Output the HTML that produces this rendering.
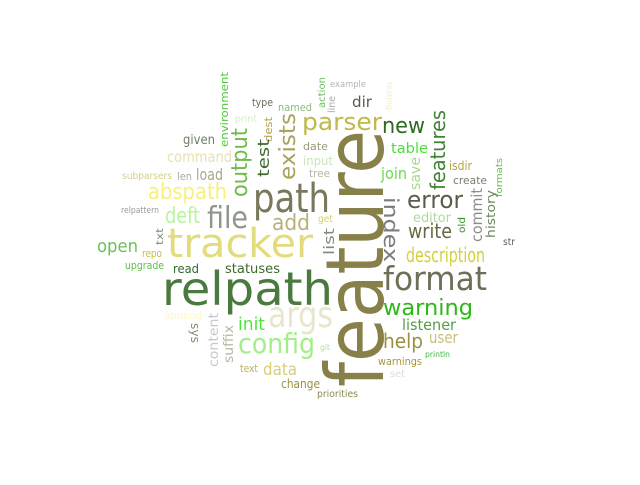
<!DOCTYPE html>
<html><head><meta charset="utf-8"><style>
html,body{margin:0;padding:0;background:#fff;}
svg text{font-family:"DejaVu Sans","Liberation Sans",sans-serif;}
</style></head><body>
<svg width="640" height="480" viewBox="0 0 640 480" id="cloud"></svg>
<script>
// word, x, y(baseline), fontSize, textLength, color, rotation
const words = ["feature","relpath","tracker","path","args","format","parser","exists","output","file","abspath","deft","add","error","new","features","description","warning","config","help","write","index","listener","init","data","open","repo","upgrade","read","statuses","user","warnings","println","set","git","text","change","priorities","append","sys","content","suffix","list","environment","type","named","print","dest","test","given","command","subparsers","len","load","relpattern","txt","date","input","tree","get","action","line","example","testing","dir","table","join","save","isdir","create","formats","editor","commit","old","history","str"];
const colors = ["#878149","#4a7a3e","#e3dc7c","#79785a","#e8e6cc","#6f6f58","#c0b94a","#a9a35c","#6fbc48","#8f968a","#f8f07a","#b6f59a","#b8b27a","#5c5c48","#2c6a22","#3f8434","#d6cf3a","#2fb81a","#a4ee8a","#9a9040","#6a6640","#7c7c7c","#51a046","#4ee63a","#d6cf7a","#6dc05a","#c8b848","#5cc048","#2f6a2a","#3a6a2a","#c8c078","#a8963a","#3ab83a","#dcdcdc","#a8e890","#bcb060","#9a9040","#8f8a50","#fdf8c8","#8a8a6a","#c8c8c8","#b8b8a0","#7c8c78","#4cc838","#6a6a5a","#8cb880","#d6ecc8","#b4a050","#3a6a30","#6f7f6a","#e6e2b4","#d6d08a","#a8a8a0","#a8a88a","#9a9a9a","#7c8c70","#9a9a7a","#c4e8b8","#b4b4a8","#d6d070","#6ac05a","#a8a8a8","#b4b4b4","#f4eec0","#5c5c4c","#4ce038","#6ad850","#a8d890","#b8a048","#7c7c6c","#5cc048","#b4d8a0","#8c8c8c","#3c8c30","#6a8a5a","#5c5c5c"];
const layout = [
[383,387,80,257,-90],[162,305,46,171,0],[167,257,40,146,0],[253,212,40,77,0],[268,327,36,65,0],[383,290,33,104,0],[302,130,24,80,0],[295,180,22,67,-90],[247,197,22,69,-90],[207,228,30,41,0],[148,199,22,79,0],[165,223,22,35,0],[272,230,22,38,0],[407,208,24,56,0],[382,133,22,43,0],[445,190,20,80,-90],[406,262,20,79,0],[383,315,22,90,0],[238,353,28,77,0],[383,348,20,40,0],[408,238,20,44,0],[384,197,20,65,90],[402,330,15,54,0],[238,330,18,27,0],[263,375,17,34,0],[97,252,18,41,0],[142,257,11,20,0],[125,269,11,39,0],[173,273,12,26,0],[225,273,13,55,0],[429,343,16,29,0],[378,365,11,44,0],[425,357,8,25,0],[390,377,10,15,0],[320,350,8,10,0],[240,372,11,18,0],[281,388,12,39,0],[317,397,10,41,0],[164,319,11,38,0],[191,323,12,20,90],[218,367,13,54,-90],[233,363,13,38,-90],[334,255,14,27,-90],
[228,147,11,75,-90],[252,106,11,21,0],[278,111,11,34,0],[235,122,10,22,0],[272,142,11,25,-90],[269,177,16,38,-90],[183,144,13,32,0],[167,162,15,65,0],[122,179,10,50,0],[177,180,11,15,0],[196,180,16,27,0],[121,213,9,38,0],[163,245,10,17,-90],[303,150,11,25,0],[303,165,12,30,0],[309,177,11,21,0],[318,222,10,15,0],[325,108,10,31,-90],[335,113,10,17,-90],[330,87,9,36,0],[387,82,8,28,90],[352,107,15,20,0],[391,153,14,37,0],[381,179,16,26,0],[420,190,14,33,-90],[449,170,12,23,0],[453,184,11,34,0],[502,197,9,39,-90],[413,222,13,38,0],[482,242,15,54,-90],[465,233,10,16,-90],[495,238,12,48,-90],[503,245,10,12,0]
];
const svg = document.getElementById('cloud');
const NS = 'http://www.w3.org/2000/svg';
words.forEach((w,i)=>{
  const [x,y,fs,len,rot] = layout[i];
  const t = document.createElementNS(NS,'text');
  t.setAttribute('x',x);
  t.setAttribute('y',y);
  t.setAttribute('font-size',fs);
  t.setAttribute('fill',colors[i]);
  t.setAttribute('textLength',len);
  t.setAttribute('lengthAdjust','spacingAndGlyphs');
  if(rot) t.setAttribute('transform','rotate('+rot+' '+x+' '+y+')');
  
  
  t.textContent = w;
  svg.appendChild(t);
});
</script>
</body></html>
